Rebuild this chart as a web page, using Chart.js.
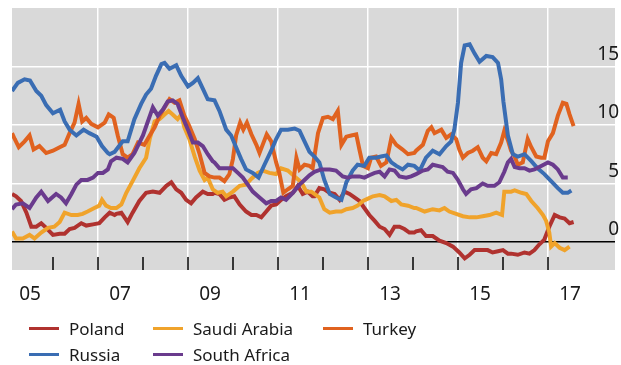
<!DOCTYPE html>
<html>
<head>
<meta charset="utf-8">
<script src="https://cdn.jsdelivr.net/npm/chart.js@4.4.0/dist/chart.umd.min.js"></script>
<style>
  html, body { margin: 0; padding: 0; background: #fff; }
  #wrap { position: relative; width: 621px; height: 365px; font-family: "Noto Sans", "Open Sans", sans-serif; }
  #box { position: absolute; left: 0; top: 0; width: 621px; height: 305px; }
  .legend { position: absolute; left: 0; top: 0; width: 621px; height: 365px; pointer-events: none; }
  .item { position: absolute; display: flex; align-items: center; font-size: 17px; color: #1a1a1a; white-space: nowrap; }
  .item i { display: inline-block; width: 30px; height: 3px; margin-right: 10px; }
</style>
</head>
<body>
<div id="wrap">
  <div id="box"><canvas id="myChart"></canvas></div>
  <div class="legend" id="legend"></div>
</div>
<script>
// series, as [year, per cent] pairs
const poland = [[2005.1,4.1],[2005.19,3.9],[2005.30,3.5],[2005.42,2.5],[2005.53,1.3],[2005.64,1.3],[2005.75,1.6],[2005.86,1.2],[2006.01,0.6],[2006.16,0.7],[2006.27,0.7],[2006.38,1.1],[2006.49,1.2],[2006.64,1.6],[2006.75,1.4],[2006.90,1.5],[2007.04,1.6],[2007.16,2.1],[2007.27,2.5],[2007.38,2.3],[2007.42,2.4],[2007.53,2.5],[2007.67,1.7],[2007.78,2.5],[2007.93,3.5],[2008.08,4.2],[2008.23,4.3],[2008.38,4.2],[2008.53,4.8],[2008.64,5.1],[2008.75,4.5],[2008.86,4.2],[2008.97,3.6],[2009.08,3.3],[2009.19,3.8],[2009.34,4.3],[2009.45,4.1],[2009.56,4.1],[2009.60,4.2],[2009.71,4.1],[2009.82,3.6],[2009.93,3.8],[2010.04,3.9],[2010.16,3.2],[2010.30,2.6],[2010.42,2.3],[2010.53,2.3],[2010.64,2.1],[2010.75,2.6],[2010.86,3.1],[2010.97,3.2],[2011.08,3.6],[2011.19,3.9],[2011.34,4.2],[2011.45,4.8],[2011.56,4.1],[2011.67,4.3],[2011.78,3.9],[2011.82,3.9],[2011.93,4.6],[2012.04,4.5],[2012.16,4.2],[2012.27,4.1],[2012.38,3.6],[2012.49,4.3],[2012.60,4.1],[2012.71,3.8],[2012.82,3.5],[2012.93,2.9],[2013.04,2.3],[2013.16,1.8],[2013.27,1.3],[2013.38,1.1],[2013.49,0.6],[2013.60,1.3],[2013.71,1.3],[2013.82,1.1],[2013.93,0.8],[2014.04,0.8],[2014.08,0.9],[2014.19,1.0],[2014.30,0.5],[2014.45,0.5],[2014.60,0.1],[2014.75,-0.1],[2014.90,-0.4],[2015.04,-0.9],[2015.16,-1.4],[2015.27,-1.1],[2015.38,-0.7],[2015.53,-0.7],[2015.67,-0.7],[2015.78,-0.9],[2015.90,-0.8],[2016.01,-0.7],[2016.12,-1.0],[2016.19,-1.0],[2016.34,-1.1],[2016.49,-0.9],[2016.60,-1.0],[2016.71,-0.7],[2016.82,-0.2],[2016.93,0.2],[2017.04,1.3],[2017.16,2.3],[2017.27,2.1],[2017.38,2.0],[2017.49,1.6],[2017.58,1.7]];

const saudiArabia = [[2005.1,0.9],[2005.19,0.3],[2005.34,0.3],[2005.49,0.6],[2005.60,0.3],[2005.75,0.8],[2005.90,1.2],[2006.04,1.3],[2006.16,1.7],[2006.27,2.5],[2006.42,2.3],[2006.56,2.3],[2006.67,2.4],[2006.78,2.6],[2006.93,2.9],[2007.04,3.1],[2007.10,3.6],[2007.19,3.1],[2007.30,2.9],[2007.42,2.9],[2007.53,3.2],[2007.64,4.2],[2007.78,5.2],[2007.93,6.3],[2008.08,7.2],[2008.16,8.8],[2008.27,10.3],[2008.38,10.5],[2008.49,10.9],[2008.58,11.2],[2008.67,10.9],[2008.78,10.5],[2008.86,10.9],[2008.93,9.8],[2009.04,8.8],[2009.16,7.3],[2009.27,6.1],[2009.38,5.3],[2009.45,5.5],[2009.56,4.5],[2009.67,4.2],[2009.78,4.3],[2009.86,3.9],[2010.01,4.3],[2010.16,4.8],[2010.30,4.9],[2010.42,5.4],[2010.56,5.9],[2010.67,6.1],[2010.82,5.9],[2010.97,5.8],[2011.08,6.3],[2011.23,6.1],[2011.38,5.6],[2011.53,5.1],[2011.64,4.3],[2011.75,4.3],[2011.82,4.1],[2011.93,3.8],[2012.04,2.8],[2012.16,2.5],[2012.30,2.6],[2012.42,2.6],[2012.53,2.8],[2012.67,2.9],[2012.78,3.1],[2012.90,3.5],[2013.01,3.7],[2013.12,3.9],[2013.27,4.0],[2013.38,3.9],[2013.53,3.5],[2013.64,3.6],[2013.75,3.2],[2013.90,3.1],[2014.04,2.9],[2014.08,2.9],[2014.27,2.6],[2014.45,2.8],[2014.60,2.7],[2014.71,2.9],[2014.82,2.6],[2014.97,2.4],[2015.12,2.2],[2015.27,2.1],[2015.42,2.1],[2015.56,2.2],[2015.71,2.3],[2015.86,2.5],[2015.99,2.3],[2016.04,4.3],[2016.19,4.3],[2016.27,4.4],[2016.42,4.2],[2016.53,4.1],[2016.64,3.5],[2016.78,2.9],[2016.90,2.3],[2016.97,1.8],[2017.04,0.8],[2017.08,-0.4],[2017.16,-0.1],[2017.27,-0.5],[2017.38,-0.7],[2017.49,-0.4]];

const turkey = [[2005.1,9.3],[2005.16,8.8],[2005.25,8.1],[2005.38,8.6],[2005.49,9.1],[2005.58,7.9],[2005.71,8.2],[2005.86,7.6],[2006.01,7.8],[2006.16,8.1],[2006.27,8.3],[2006.38,9.3],[2006.49,10.2],[2006.58,11.8],[2006.66,10.3],[2006.75,10.6],[2006.86,10.1],[2007.01,9.8],[2007.16,10.2],[2007.25,10.9],[2007.33,10.7],[2007.36,10.6],[2007.45,9.1],[2007.56,7.5],[2007.67,7.2],[2007.78,7.5],[2007.90,8.5],[2008.04,8.3],[2008.16,9.1],[2008.27,9.8],[2008.38,10.8],[2008.49,11.5],[2008.60,12.2],[2008.71,11.9],[2008.82,12.1],[2008.93,10.8],[2009.04,9.9],[2009.16,8.8],[2009.27,7.5],[2009.38,5.9],[2009.49,5.6],[2009.60,5.5],[2009.71,5.5],[2009.82,5.2],[2009.93,5.8],[2010.01,7.1],[2010.08,9.1],[2010.17,10.2],[2010.24,9.6],[2010.32,10.2],[2010.42,9.2],[2010.53,8.3],[2010.60,7.6],[2010.67,8.3],[2010.76,9.2],[2010.86,8.6],[2010.97,6.8],[2011.04,5.9],[2011.13,4.2],[2011.23,4.5],[2011.34,4.8],[2011.42,7.2],[2011.49,6.2],[2011.60,6.6],[2011.71,6.5],[2011.78,6.3],[2011.90,9.3],[2012.01,10.6],[2012.12,10.7],[2012.23,10.5],[2012.34,11.2],[2012.42,8.3],[2012.53,9.0],[2012.64,9.1],[2012.75,9.2],[2012.82,7.9],[2012.90,6.5],[2013.01,6.3],[2013.08,7.2],[2013.19,7.3],[2013.30,6.5],[2013.42,6.8],[2013.53,8.9],[2013.64,8.3],[2013.78,7.9],[2013.90,7.5],[2014.04,7.6],[2014.08,7.8],[2014.23,8.3],[2014.34,9.5],[2014.42,9.8],[2014.49,9.3],[2014.64,9.6],[2014.75,8.9],[2014.86,9.2],[2014.97,8.8],[2015.04,7.9],[2015.12,7.2],[2015.23,7.6],[2015.34,7.8],[2015.45,8.1],[2015.56,7.2],[2015.64,6.9],[2015.75,7.6],[2015.86,7.5],[2015.97,8.5],[2016.04,9.5],[2016.12,8.7],[2016.19,7.8],[2016.27,7.3],[2016.34,6.6],[2016.45,6.8],[2016.56,8.8],[2016.64,8.1],[2016.75,7.3],[2016.86,7.2],[2016.93,7.2],[2017.01,8.6],[2017.12,9.3],[2017.23,10.8],[2017.34,11.9],[2017.42,11.8],[2017.49,10.9],[2017.58,9.9]];

const russia = [[2005.1,12.9],[2005.23,13.6],[2005.38,13.9],[2005.50,13.8],[2005.64,12.9],[2005.75,12.5],[2005.86,11.7],[2006.01,11.0],[2006.17,11.3],[2006.27,10.3],[2006.38,9.6],[2006.53,9.1],[2006.69,9.6],[2006.82,9.3],[2006.98,9.0],[2007.10,8.2],[2007.23,7.6],[2007.27,7.5],[2007.38,7.7],[2007.42,7.9],[2007.56,8.6],[2007.67,8.6],[2007.82,10.5],[2007.97,11.8],[2008.08,12.6],[2008.19,13.1],[2008.30,14.2],[2008.42,15.2],[2008.49,15.3],[2008.60,14.8],[2008.75,15.1],[2008.86,14.2],[2009.01,13.3],[2009.12,13.6],[2009.23,14.0],[2009.34,13.1],[2009.45,12.2],[2009.60,12.1],[2009.71,11.2],[2009.86,9.6],[2009.97,9.1],[2010.08,8.1],[2010.19,7.1],[2010.30,6.2],[2010.45,5.9],[2010.58,5.5],[2010.71,6.6],[2010.86,7.8],[2010.97,8.8],[2011.08,9.6],[2011.23,9.6],[2011.38,9.7],[2011.49,9.5],[2011.60,8.6],[2011.71,7.7],[2011.82,7.3],[2011.93,6.8],[2012.04,5.3],[2012.16,4.1],[2012.30,3.8],[2012.42,3.6],[2012.53,5.1],[2012.67,6.1],[2012.78,6.6],[2012.93,6.5],[2013.04,7.2],[2013.19,7.2],[2013.30,7.3],[2013.42,7.4],[2013.53,6.8],[2013.64,6.5],[2013.78,6.2],[2013.90,6.6],[2014.04,6.5],[2014.16,6.1],[2014.30,7.2],[2014.45,7.8],[2014.60,7.5],[2014.75,8.2],[2014.86,8.6],[2014.93,9.6],[2015.01,11.9],[2015.08,15.3],[2015.16,16.8],[2015.27,16.9],[2015.38,16.1],[2015.49,15.4],[2015.64,15.9],[2015.78,15.8],[2015.90,15.3],[2015.97,13.9],[2016.02,12.0],[2016.12,9.1],[2016.23,7.5],[2016.34,7.3],[2016.49,7.5],[2016.64,6.9],[2016.78,6.3],[2016.93,5.8],[2017.08,5.2],[2017.23,4.6],[2017.34,4.2],[2017.45,4.2],[2017.53,4.4]];

const southAfrica = [[2005.1,2.8],[2005.19,3.2],[2005.34,3.3],[2005.49,2.9],[2005.64,3.8],[2005.75,4.3],[2005.90,3.5],[2006.08,4.1],[2006.19,3.8],[2006.30,3.3],[2006.42,4.1],[2006.53,4.9],[2006.64,5.3],[2006.78,5.3],[2006.90,5.5],[2007.01,5.9],[2007.12,5.9],[2007.23,6.2],[2007.30,6.9],[2007.38,7.1],[2007.42,7.2],[2007.56,7.1],[2007.67,6.8],[2007.82,7.6],[2008.01,9.1],[2008.12,10.3],[2008.23,11.5],[2008.34,10.8],[2008.45,11.3],[2008.56,12.0],[2008.67,12.1],[2008.78,11.8],[2008.90,10.6],[2009.01,9.6],[2009.12,8.5],[2009.23,8.5],[2009.34,8.2],[2009.45,7.5],[2009.56,6.9],[2009.60,6.8],[2009.71,6.3],[2009.86,6.3],[2010.01,6.3],[2010.12,5.9],[2010.23,5.5],[2010.34,4.9],[2010.45,4.3],[2010.60,3.8],[2010.75,3.3],[2010.86,3.5],[2010.97,3.5],[2011.08,3.8],[2011.19,3.6],[2011.34,4.2],[2011.49,4.9],[2011.60,5.3],[2011.71,5.7],[2011.82,6.0],[2011.97,6.2],[2012.16,6.2],[2012.30,6.1],[2012.45,5.6],[2012.56,5.5],[2012.67,5.6],[2012.82,5.6],[2012.93,5.5],[2013.04,5.7],[2013.16,5.9],[2013.27,6.0],[2013.38,5.6],[2013.49,6.2],[2013.60,6.1],[2013.71,5.6],[2013.86,5.5],[2013.97,5.6],[2014.08,5.8],[2014.23,6.1],[2014.34,6.2],[2014.45,6.6],[2014.56,6.5],[2014.67,6.4],[2014.78,6.0],[2014.90,5.9],[2015.01,5.3],[2015.12,4.5],[2015.19,4.1],[2015.30,4.5],[2015.42,4.6],[2015.56,5.0],[2015.67,4.8],[2015.82,4.8],[2015.93,5.1],[2016.04,6.0],[2016.12,6.8],[2016.19,7.1],[2016.27,6.4],[2016.38,6.3],[2016.49,6.3],[2016.60,6.1],[2016.71,6.2],[2016.86,6.5],[2017.01,6.8],[2017.12,6.6],[2017.23,6.2],[2017.34,5.5],[2017.45,5.5]];

// axes
const gridYears = [2007, 2009, 2011, 2013, 2015, 2017];
const labelYears = [2005.5, 2007.5, 2009.5, 2011.5, 2013.5, 2015.5, 2017.5];
const yearLabels = ['05', '07', '09', '11', '13', '15', '17'];
const yearMarks = [2006, 2007, 2008, 2009, 2010, 2011, 2012, 2013, 2014, 2015, 2016, 2017];
const yTicks = [0, 5, 10, 15];

const series = [
  { name: 'Poland', data: poland, color: '#B0322F' },
  { name: 'Saudi Arabia', data: saudiArabia, color: '#F0A32B' },
  { name: 'Turkey', data: turkey, color: '#E0621F' },
  { name: 'Russia', data: russia, color: '#3A6DB3' },
  { name: 'South Africa', data: southAfrica, color: '#6A3B8D' }
];

// legend in three columns
const legendPos = [[29, 317], [153, 317], [323, 317], [29, 343], [153, 343]];
const legend = document.getElementById('legend');
series.forEach(function(s, i){
  var d = document.createElement('div');
  d.className = 'item';
  d.style.left = legendPos[i][0] + 'px';
  d.style.top = legendPos[i][1] + 'px';
  d.innerHTML = "<i style='background:" + s.color + "'></i>" + s.name;
  legend.appendChild(d);
});

// grey panel behind the plot, plus the short year marks at the bottom
const panel = {
  id: 'panel',
  beforeDraw: function(chart){
    var a = chart.chartArea, c = chart.ctx;
    c.save();
    c.fillStyle = '#D9D9D9';
    c.fillRect(a.left, a.top, a.right - a.left, a.bottom - a.top);
    c.restore();
  },
  beforeDatasetsDraw: function(chart){
    var a = chart.chartArea, c = chart.ctx, sx = chart.scales.x;
    c.save();
    c.strokeStyle = '#000';
    c.lineWidth = 1.5;
    yearMarks.forEach(function(yr){
      var px = Math.round(sx.getPixelForValue(yr));
      c.beginPath();
      c.moveTo(px, a.bottom - 13);
      c.lineTo(px, a.bottom);
      c.stroke();
    });
    c.restore();
  }
};

// keep the axes from reserving space so the plot fills the box
function noPad(axis){
  axis.paddingTop = 0; axis.paddingBottom = 0;
  axis.paddingLeft = 0; axis.paddingRight = 0;
}

Chart.defaults.font.family = '"Noto Sans", "Open Sans", sans-serif';

const ctx = document.getElementById('myChart').getContext('2d');
const chart = new Chart(ctx, {
  type: 'line',
  data: {
    datasets: series.map(function(s, i){
      return {
        label: s.name,
        data: s.data,
        borderColor: s.color,
        backgroundColor: s.color,
        borderWidth: 4,
        pointRadius: 0,
        tension: 0,
        fill: false,
        order: -i, // later series sit on top
        xAxisID: 'x',
        yAxisID: 'y'
      };
    })
  },
  options: {
    responsive: true,
    maintainAspectRatio: false,
    animation: false,
    layout: { padding: { left: 12, right: 6, top: 8, bottom: 0 } },
    plugins: { legend: { display: false }, tooltip: { enabled: false } },
    scales: {
      x: {
        type: 'linear', position: 'bottom', min: 2005.1, max: 2018.5,
        afterBuildTicks: function(axis){ axis.ticks = gridYears.map(function(v){ return { value: v }; }); },
        afterFit: function(axis){ noPad(axis); axis.height = 0; },
        grid: { color: '#FFFFFF', lineWidth: 1.5, drawTicks: false },
        border: { display: false },
        ticks: { display: false }
      },
      x2: {
        type: 'linear', position: 'bottom', min: 2005.1, max: 2018.5,
        afterBuildTicks: function(axis){ axis.ticks = labelYears.map(function(v){ return { value: v }; }); },
        afterFit: function(axis){ noPad(axis); axis.height = 35; },
        grid: { display: false, drawTicks: false },
        border: { display: false },
        ticks: {
          autoSkip: false, maxRotation: 0, padding: 13, color: '#1a1a1a', font: { size: 19 },
          callback: function(v){ var i = labelYears.indexOf(v); return i < 0 ? '' : yearLabels[i]; }
        }
      },
      y: {
        type: 'linear', position: 'right', min: -2.4, max: 20,
        afterBuildTicks: function(axis){ axis.ticks = yTicks.map(function(v){ return { value: v }; }); },
        afterFit: function(axis){ noPad(axis); axis.width = 0; },
        grid: {
          drawTicks: false,
          color: function(c){ return c.tick && c.tick.value === 0 ? '#000000' : '#FFFFFF'; },
          lineWidth: 1.5
        },
        border: { display: false },
        ticks: { mirror: true, padding: 4, labelOffset: -12, color: '#1a1a1a', font: { size: 19 } }
      }
    }
  },
  plugins: [panel]
});
</script>
</body>
</html>
